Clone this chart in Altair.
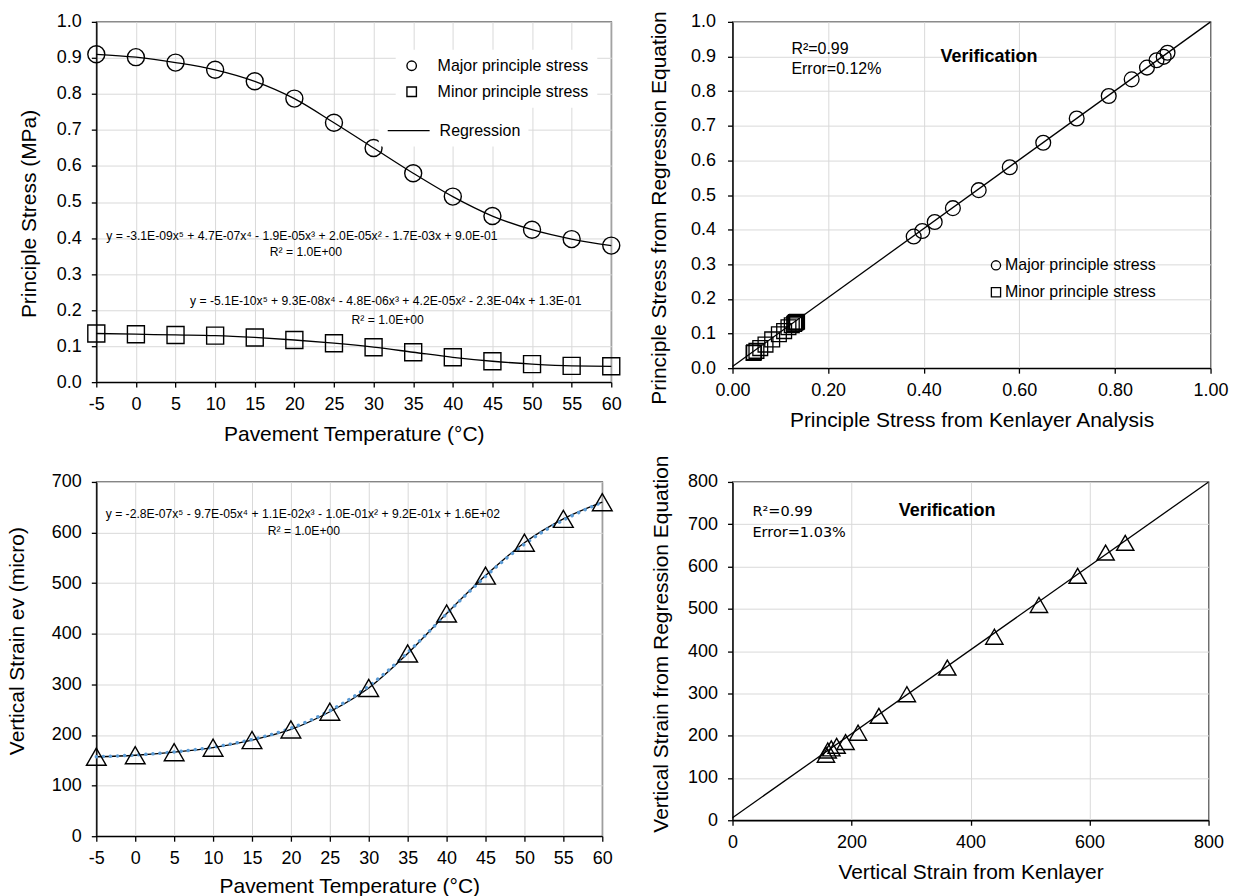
import altair as alt
import pandas as pd

# ---------------- data ----------------
temps = [-5, 0, 5, 10, 15, 20, 25, 30, 35, 40, 45, 50, 55, 60]
major_stress = [0.910, 0.902, 0.887, 0.867, 0.835, 0.787, 0.720, 0.650, 0.580, 0.515, 0.461, 0.423, 0.397, 0.379]
minor_stress = [0.135, 0.133, 0.131, 0.129, 0.124, 0.117, 0.108, 0.097, 0.083, 0.069, 0.058, 0.050, 0.045, 0.044]
major_pred = [0.911, 0.899, 0.889, 0.868, 0.834, 0.786, 0.721, 0.651, 0.580, 0.514, 0.462, 0.422, 0.396, 0.380]
minor_pred = [0.134, 0.133, 0.131, 0.128, 0.124, 0.118, 0.107, 0.098, 0.083, 0.068, 0.058, 0.050, 0.046, 0.044]
strain = [157, 160, 166, 175, 190, 211, 246, 293, 361, 440, 515, 580, 627, 660]
strain_pred = [155, 165, 170, 176, 185, 207, 247, 298, 361, 434, 509, 578, 633, 656]
diag_stress_x = [0.0, 1.0]
diag_stress_y = [0.005, 1.0]
diag_strain_x = [0, 800]
diag_strain_y = [6, 800]

stress_ticks = [0.0, 0.1, 0.2, 0.3, 0.4, 0.5, 0.6, 0.7, 0.8, 0.9, 1.0]
stress_xticks = [0.0, 0.2, 0.4, 0.6, 0.8, 1.0]
strain_ticks_bl = [0, 100, 200, 300, 400, 500, 600, 700]
strain_ticks_br = [0, 100, 200, 300, 400, 500, 600, 700, 800]
strain_xticks_br = [0, 200, 400, 600, 800]

MAJ = "Major principle stress"
MIN = "Minor principle stress"
REG = "Regression"
eq_major = "y = -3.1E-09x⁵ + 4.7E-07x⁴ - 1.9E-05x³ + 2.0E-05x² - 1.7E-03x + 9.0E-01"
eq_minor = "y = -5.1E-10x⁵ + 9.3E-08x⁴ - 4.8E-06x³ + 4.2E-05x² - 2.3E-04x + 1.3E-01"
eq_strain = "y = -2.8E-07x⁵ - 9.7E-05x⁴ + 1.1E-02x³ - 1.0E-01x² + 9.2E-01x + 1.6E+02"
r2_eq = "R² = 1.0E+00"

FONT = "Liberation Sans"
PLAIN_LABEL = "'' + datum.value"

stress_df = pd.DataFrame({
    "temp": temps * 2,
    "stress": major_stress + minor_stress,
    "series": [MAJ] * len(temps) + [MIN] * len(temps),
    "reg": [REG] * (2 * len(temps)),
    "kenlayer": major_stress + minor_stress,
    "pred": major_pred + minor_pred,
})
strain_df = pd.DataFrame({"temp": temps, "strain": strain, "pred": strain_pred})
diag_stress = pd.DataFrame({"kenlayer": diag_stress_x, "pred": diag_stress_y})
diag_strain = pd.DataFrame({"strain": diag_strain_x, "pred": diag_strain_y})


def note(text, x, y, size=12.2, weight="normal", align="center", font=FONT):
    return alt.Chart(pd.DataFrame({"t": [text]})).mark_text(
        align=align, baseline="middle", fontSize=size, fontWeight=weight,
        font=font, color="black"
    ).encode(x=alt.value(x), y=alt.value(y), text="t:N")


# ---------------- top-left ----------------
x_tl = alt.X("temp:Q", scale=alt.Scale(domain=[-5, 60], nice=False, zero=False),
             axis=alt.Axis(values=temps, labelExpr=PLAIN_LABEL, title="Pavement Temperature (°C)",
                           labelPadding=8, titlePadding=10))
y_tl = alt.Y("stress:Q", scale=alt.Scale(domain=[0, 1], nice=False),
             axis=alt.Axis(values=stress_ticks, format=".1f", title="Principle Stress (MPa)",
                           labelPadding=10, titlePadding=16.5, titleY=192))

tl_lines = alt.Chart(stress_df).mark_line(strokeWidth=1.3, interpolate="monotone").encode(
    x=x_tl, y=y_tl, detail="series:N",
    color=alt.Color("reg:N", scale=alt.Scale(domain=[REG], range=["black"]),
                    legend=alt.Legend(title=None, orient="none", legendX=283, legendY=79,
                                      padding=8, fillColor="white", symbolSize=1764,
                                      symbolStrokeWidth=1.3, labelOffset=9, labelFontSize=16,
                                      labelFont=FONT, labelColor="black")),
)
tl_pts = alt.Chart(stress_df).mark_point(filled=False, color="black", strokeWidth=1.4,
                                        opacity=1, size=290).encode(
    x=x_tl, y=y_tl,
    shape=alt.Shape("series:N", scale=alt.Scale(domain=[MAJ, MIN], range=["circle", "square"]),
                    legend=alt.Legend(title=None, orient="none", legendX=300, legendY=28,
                                      padding=8, fillColor="white", labelFontSize=16,
                                      labelFont=FONT, labelColor="black", labelOffset=18,
                                      rowPadding=10, symbolSize=90, symbolStrokeColor="black",
                                      symbolFillColor="transparent", symbolStrokeWidth=1.4)),
)
tl = alt.layer(
    tl_lines, tl_pts,
    note(eq_major, 206, 215), note(r2_eq, 210, 231),
    note(eq_minor, 290, 280), note(r2_eq, 292, 299),
).properties(width=516, height=361)

# ---------------- top-right ----------------
x_tr = alt.X("kenlayer:Q", scale=alt.Scale(domain=[0, 1], nice=False),
             axis=alt.Axis(values=stress_xticks, format=".2f",
                           title="Principle Stress from Kenlayer Analysis",
                           labelPadding=8, titlePadding=10))
y_tr = alt.Y("pred:Q", scale=alt.Scale(domain=[0, 1], nice=False),
             axis=alt.Axis(values=stress_ticks, format=".1f",
                           title="Principle Stress from Regression Equation",
                           labelPadding=12, titlePadding=21.5, titleY=186))
tr_diag = alt.Chart(diag_stress).mark_line(color="black", strokeWidth=1.3).encode(x=x_tr, y=y_tr)
tr_pts = alt.Chart(stress_df).mark_point(filled=False, color="black", strokeWidth=1.3,
                                        opacity=1, size=220).encode(
    x=x_tr, y=y_tr,
    shape=alt.Shape("series:N", scale=alt.Scale(domain=[MAJ, MIN], range=["circle", "square"]),
                    legend=alt.Legend(title=None, orient="none", legendX=256, legendY=236,
                                      padding=0, labelFontSize=16, labelFont=FONT,
                                      labelColor="black", labelOffset=1, rowPadding=11,
                                      symbolSize=85, symbolStrokeColor="black",
                                      symbolFillColor="transparent", symbolStrokeWidth=1.3)),
)
tr = alt.layer(
    tr_diag, tr_pts,
    note("R²=0.99", 59, 27, size=16, align="left"),
    note("Error=0.12%", 59, 47, size=16, align="left"),
    note("Verification", 257, 35, size=18, weight="bold"),
).properties(width=479, height=347)

# ---------------- bottom-left ----------------
x_bl = alt.X("temp:Q", scale=alt.Scale(domain=[-5, 60], nice=False, zero=False),
             axis=alt.Axis(values=temps, labelExpr=PLAIN_LABEL, title="Pavement Temperature (°C)",
                           labelPadding=8, titlePadding=8))
y_bl = alt.Y("strain:Q", scale=alt.Scale(domain=[0, 700], nice=False),
             axis=alt.Axis(values=strain_ticks_bl, format="d", title="Vertical Strain ev (micro)",
                           labelPadding=10, titlePadding=23.5, titleY=159))
bl_line = alt.Chart(strain_df).mark_line(color="black", strokeWidth=1.3,
                                         interpolate="monotone").encode(x=x_bl, y=y_bl)
bl_dots = alt.Chart(strain_df).mark_line(color="#5b9bd5", strokeWidth=3.5, strokeDash=[0.1, 7],
                                         strokeCap="round", interpolate="basis").encode(x=x_bl, y=y_bl)
bl_pts = alt.Chart(strain_df).mark_point(shape="triangle-up", filled=False, color="black",
                                        strokeWidth=1.4, opacity=1, size=390).encode(x=x_bl, y=y_bl)
bl = alt.layer(
    bl_line, bl_dots, bl_pts,
    note(eq_strain, 207, 32), note(r2_eq, 208, 49),
).properties(width=507, height=355)

# ---------------- bottom-right ----------------
x_br = alt.X("strain:Q", scale=alt.Scale(domain=[0, 800], nice=False),
             axis=alt.Axis(values=strain_xticks_br, format="d", title="Vertical Strain from Kenlayer",
                           labelPadding=8, titlePadding=10))
y_br = alt.Y("pred:Q", scale=alt.Scale(domain=[0, 800], nice=False),
             axis=alt.Axis(values=strain_ticks_br, format="d",
                           title="Vertical Strain from Regression Equation",
                           labelPadding=10, titlePadding=16.5, titleY=162))
br_diag = alt.Chart(diag_strain).mark_line(color="black", strokeWidth=1.3).encode(x=x_br, y=y_br)
br_pts = alt.Chart(strain_df).mark_point(shape="triangle-up", filled=False, color="black",
                                        strokeWidth=1.4, opacity=1, size=300).encode(x=x_br, y=y_br)
br = alt.layer(
    br_diag, br_pts,
    note("R²=0.99", 20, 30, size=14.5, align="left", font="DejaVu Sans"),
    note("Error=1.03%", 20, 51, size=14.5, align="left", font="DejaVu Sans"),
    note("Verification", 215, 29, size=18, weight="bold"),
).properties(width=477, height=339)

chart = alt.concat(
    tl, tr, bl, br, columns=2, align="each",
    spacing={"row": 9, "column": 23.5},
).resolve_scale(
    shape="independent", color="independent"
).resolve_legend(
    shape="independent", color="independent"
).properties(
    padding={"left": 5.5, "top": 9, "right": 5, "bottom": 0},
    background="white",
).configure_view(
    stroke="black", strokeWidth=1.3
).configure_axis(
    domainColor="black", domainWidth=1.3, tickColor="black", tickWidth=1.3, tickSize=5,
    gridColor="#d9d9d9", gridWidth=1, labelFont=FONT, labelFontSize=18, labelColor="black",
    titleFont=FONT, titleFontSize=21, titleFontWeight="normal", titleColor="black",
    labelFlush=False, labelOverlap=False,
)

chart.save("out.html", embed_options={"renderer": "svg", "actions": False})
